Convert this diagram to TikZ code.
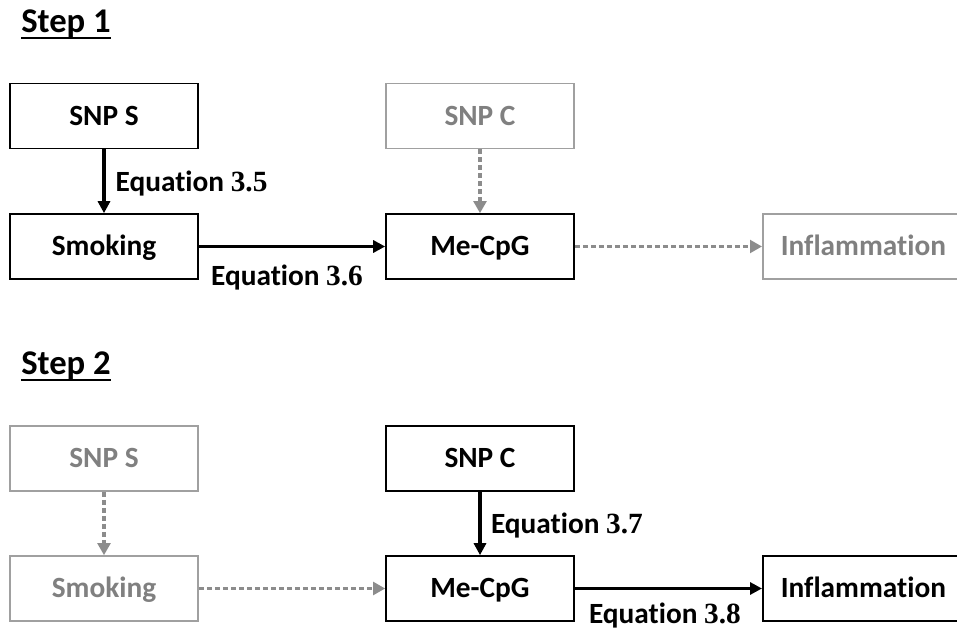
\documentclass[tikz,border=0pt]{standalone}
\usepackage{fontspec}
\setmainfont{Carlito}[Ligatures={NoCommon}]
\newfontfamily\numfont{Liberation Serif}
\usetikzlibrary{arrows.meta}
\definecolor{gtext}{HTML}{808080}
\definecolor{gline}{HTML}{A0A0A0}
\definecolor{garrow}{HTML}{8C8C8C}
\begin{document}
\begin{tikzpicture}[x=0.75pt,y=-0.75pt,
 txt/.style={font=\bfseries\fontsize{22}{26}\selectfont, text height=14.2pt, text depth=0pt},
 box/.style={txt, draw=black, line width=1.2pt, minimum height=48.75pt, inner sep=0pt, minimum width=141pt},
 gbox/.style={box, draw=gline, text=gtext},
 ibox/.style={anchor=west, text width=180pt, align=left, inner xsep=13.5pt},
 arr/.style={line width=2.5pt, -{Triangle[length=9pt,width=9pt]}},
 garr/.style={line width=2.8pt, draw=garrow, dash pattern=on 3.6pt off 2.4pt, -{Triangle[length=9pt,width=9.5pt]}},
 eq/.style={txt, inner sep=0pt},
 title/.style={font=\bfseries\fontsize{26}{30}\selectfont, inner sep=0pt, anchor=base west},
 uline/.style={line width=1.5pt}]
\clip (0,0) rectangle (957,630);
\fill[white] (0,0) rectangle (957,630);
% Step 1
\node[title] (t1) at (21,33) {Step 1};
\draw[uline] ([yshift=-3.5pt]t1.base west) -- ([yshift=-3.5pt]t1.base east);
\node[box] (snps1) at (104,116) {SNP S};
\node[box] (smk1) at (104,246.5) {Smoking};
\node[gbox] (snpc1) at (480,116) {SNP C};
\node[box] (cpg1) at (480,246.5) {Me-CpG};
\node[gbox, ibox] (inf1) at (762,246.5) {Inflammation};
\draw[arr] (snps1) -- node[eq, right=7.5pt, pos=0.515] {Equation {\numfont 3.5}} (smk1);
\draw[arr] (smk1) -- node[eq, below=13.5pt, xshift=-3.75pt] {Equation {\numfont 3.6}} (cpg1);
\draw[garr] (snpc1) -- (cpg1);
\draw[garr] (cpg1) -- (inf1);
% Step 2
\node[title] (t2) at (21,375) {Step 2};
\draw[uline] ([yshift=-3.5pt]t2.base west) -- ([yshift=-3.5pt]t2.base east);
\node[gbox] (snps2) at (104,458.5) {SNP S};
\node[gbox] (smk2) at (104,588.5) {Smoking};
\node[box] (snpc2) at (480,458.5) {SNP C};
\node[box] (cpg2) at (480,588.5) {Me-CpG};
\node[box, ibox] (inf2) at (762,588.5) {Inflammation};
\draw[garr] (snps2) -- (smk2);
\draw[garr] (smk2) -- (cpg2);
\draw[arr] (snpc2) -- node[eq, right=7pt, pos=0.515] {Equation {\numfont 3.7}} (cpg2);
\draw[arr] (cpg2) -- node[eq, below=11pt, xshift=-2.6pt] {Equation {\numfont 3.8}} (inf2);
\end{tikzpicture}
\end{document}
